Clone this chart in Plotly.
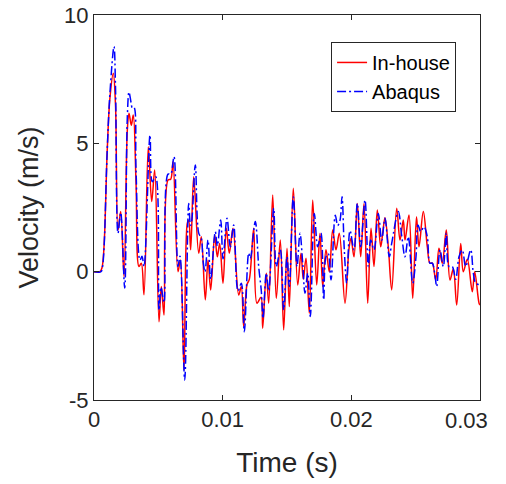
import plotly.graph_objects as go

# In-house solution: time (ms) and velocity (m/s)
inhouse_time_ms = [0, 0.466, 0.62, 0.777, 1.034, 1.244, 1.500, 1.671, 1.865, 2.075, 2.332, 2.588, 2.720, 2.899, 3.054,
                   3.264, 3.497, 3.676, 3.886, 4.220, 4.484, 4.718, 5.052, 5.231, 5.440, 5.751, 5.961, 6.140, 6.528,
                   6.707, 6.995, 7.251, 7.360, 7.515, 7.749, 8.137, 8.339, 8.650, 8.860, 9.070, 9.381, 9.583, 9.769,
                   10.026, 10.283, 10.515, 10.803, 11.246, 11.448, 11.634, 11.891, 12.070, 12.412, 12.668, 12.979,
                   13.111, 13.391, 13.578, 13.889, 14.168, 14.479, 14.743, 15.000, 15.179, 15.490, 15.832, 16.088,
                   16.267, 16.477, 16.733, 16.998, 17.308, 17.565, 17.775, 18.031, 18.288, 18.552, 18.808, 19.065,
                   19.508, 19.819, 19.974, 20.207, 20.464, 20.728, 20.984, 21.272, 21.528, 21.762, 22.018, 22.282,
                   22.438, 22.616, 22.873, 23.137, 23.526, 23.782, 24.039, 24.171, 24.482, 24.770, 25.065, 25.259,
                   25.593, 25.904, 26.114, 26.293, 26.557, 26.813, 27.070, 27.381, 27.668, 27.925, 28.189, 28.500,
                   28.702, 29.013, 29.401, 29.588, 29.922, 30.0]
inhouse_velocity = [0, 0, 0.15, 0.96, 4.8, 6.8, 7.73, 6.5, 1.62, 2.34, -0.19, 5.5, 6.17, 5.7, 6.1,
                    3.5, 0.2, 0.33, -0.9, 4.87, 2.73, 3.96, -1.95, -0.58, -1.69, 3.57, 3.6, 4.28, 0.0,
                    0.45, -3.83, 1.88, 2.0, 0.85, 3.7, 0.72, 1.36, -1.1, 0.45, -0.71, 1.43, 0.58, 1.1,
                    -0.45, 1.69, 0.72, 1.69, -0.91, -0.58, -2.14, -0.5, -0.3, 1.69, -1.23, -1.0,
                    -2.2, -0.06, -1.23, 2.99, -1.04, 1.23, -2.27, 0.91, -1.36, 3.25, -0.52, 0.72,
                    -0.3, 0.52, -1.62, 2.79, -0.52, 1.5, -0.58, 0.85, 0.0, 1.62, 0.85, 1.5,
                    -1.23, 0.9, 1.3, 0.58, 2.66, 0.58, 2.66, -1.23, 1.69, 0.2, 2.4, 0.97,
                    1.5, 2.1, 0.97, -0.71, 2.47, 1.23, 2.01, 1.23, 2.21, -1.04, 2.14, 0.97,
                    2.34, 0.97, 0.33, 0.33, -0.32, 0.91, 0.33, 1.62, -0.32, 0.1, -1.3, 1.1,
                    0.0, 0.48, -0.78, 0.0, -1.22, -1.3]

# Abaqus solution: time (ms) and velocity (m/s)
abaqus_time_ms = [0, 0.544, 0.65, 0.777, 1.010, 1.244, 1.554, 1.671, 1.865, 2.075, 2.386, 2.588, 2.720, 2.876, 2.977,
                  3.109, 3.264, 3.575, 3.731, 3.886, 4.352, 4.531, 4.795, 5.052, 5.207, 5.440, 5.751, 5.961, 6.218,
                  6.528, 6.684, 7.049, 7.360, 7.500, 7.578, 7.873, 8.137, 8.339, 8.471, 8.627, 8.860, 9.070, 9.427,
                  9.583, 9.847, 10.026, 10.337, 10.593, 10.857, 11.192, 11.448, 11.681, 12.023, 12.147, 12.536,
                  12.800, 13.003, 13.135, 13.391, 13.578, 13.966, 14.168, 14.479, 14.743, 15.000, 15.179, 15.490,
                  15.777, 16.010, 16.220, 16.399, 16.609, 16.811, 17.122, 17.386, 17.642, 17.852, 18.031, 18.210,
                  18.420, 18.754, 18.940, 19.119, 19.275, 19.453, 19.640, 19.896, 20.207, 20.464, 20.728, 21.062,
                  21.319, 21.505, 21.762, 22.096, 22.360, 22.616, 22.951, 23.137, 23.650, 23.914, 24.171, 24.427,
                  24.770, 25.026, 25.181, 25.391, 25.648, 25.904, 26.114, 26.293, 26.479, 26.635, 26.891, 27.148,
                  27.381, 27.591, 27.847, 28.112, 28.368, 28.624, 28.889, 29.277, 29.479, 29.665, 29.922, 30.0]
abaqus_velocity = [0, 0, 0.15, 0.9, 4.5, 7.0, 8.77, 7.2, 1.5, 2.3, -0.64, 6.0, 7.0, 6.6, 6.38,
                   6.4, 4.0, 0.45, 0.6, 0.2, 5.32, 3.5, 3.7, -1.5, -0.6, -1.2, 3.8, 3.8, 4.48,
                   0.2, 0.6, -4.22, 2.66, 1.8, 1.9, 4.16, 1.5, 1.3, 0.45, 0.0, 1.23, -0.3, 1.56,
                   1.0, 2.01, 0.5, 2.08, 0.97, 1.82, -0.75, -0.45, -2.34, 0.72, 0.5, 1.95,
                   0.2, -0.75, -1.82, -0.06, -0.75, 2.47, 0.2, 0.85, -1.49, 0.58, -0.58, 2.92,
                   0.2, 1.5, 0.33, -0.84, -0.06, -1.75, 2.27, 0.97, 1.5, -1.1, 0.58, 0.7,
                   -0.32, 2.2, 1.8, 2.0, 2.92, 0.85, -0.45, 1.6, 0.85, 2.66, 0.97, 2.79,
                   0.2, 1.23, 0.85, 2.27, 1.23, 2.08, 0.58, 1.1, 2.34, 1.4, 0.58, 1.36,
                   -0.45, 0.58, 1.82, 1.56, 1.75, 1.36, 0.33, 0.33, -0.06, -0.58, 0.85, 0.2,
                   1.5, 0.2, 0.2, -0.3, 0.58, 0.85, 0.2, 0.85, -0.05, -0.45, -0.5, -0.5]

x_tick_vals = [0, 0.01, 0.02, 0.03]
x_tick_text = ["0", "0.01", "0.02", ""]
x_last_tick_val = 0.03
x_last_tick_text = "0.03"
y_tick_vals = [-5, 0, 5, 10]
y_tick_text = ["-5", "0", "5", "10"]

inhouse_time = [t / 1000 for t in inhouse_time_ms]
abaqus_time = [t / 1000 for t in abaqus_time_ms]

FONT = "Liberation Sans, Arial, Helvetica, sans-serif"
AX = "#262626"

fig = go.Figure()
fig.add_trace(go.Scatter(x=inhouse_time, y=inhouse_velocity, mode="lines", name="In-house",
                         line=dict(color="#ff0000", width=1.5, shape="spline", smoothing=1.0)))
fig.add_trace(go.Scatter(x=abaqus_time, y=abaqus_velocity, mode="lines", name="Abaqus",
                         line=dict(color="#0000ff", width=1.5, dash="9px,3px,2px,3px",
                                   shape="spline", smoothing=1.0)))

axis_common = dict(showgrid=False, zeroline=False, showline=True, linecolor=AX, linewidth=1,
                   mirror="ticks", ticks="inside", ticklen=5, tickcolor=AX, tickwidth=1,
                   automargin=False,
                   tickfont=dict(family=FONT, size=22, color=AX))

fig.update_xaxes(range=[0, 0.03], tickvals=x_tick_vals, ticktext=x_tick_text,
                 title=dict(text="Time (s)", font=dict(family=FONT, size=28, color=AX), standoff=20),
                 **axis_common)
fig.update_yaxes(range=[-5, 10], tickvals=y_tick_vals, ticktext=y_tick_text,
                 title=dict(text="Velocity (m/s)", font=dict(family=FONT, size=27, color=AX), standoff=17),
                 **axis_common)

# last x tick label, nudged left as in the original figure so it stays inside the canvas
fig.add_annotation(x=x_last_tick_val, xref="x", y=0, yref="paper", text=x_last_tick_text,
                   showarrow=False, xanchor="center", yanchor="top", xshift=-14, yshift=-6,
                   font=dict(family=FONT, size=22, color=AX))

fig.update_layout(
    width=506, height=484,
    margin=dict(l=94, r=26, t=15, b=84),
    paper_bgcolor="white", plot_bgcolor="white",
    font=dict(family=FONT, color=AX),
    legend=dict(x=0.938, y=0.93, xanchor="right", yanchor="top",
                bgcolor="white", bordercolor=AX, borderwidth=1,
                font=dict(family=FONT, size=20, color="#000000")),
)

fig.write_html("out.html")
